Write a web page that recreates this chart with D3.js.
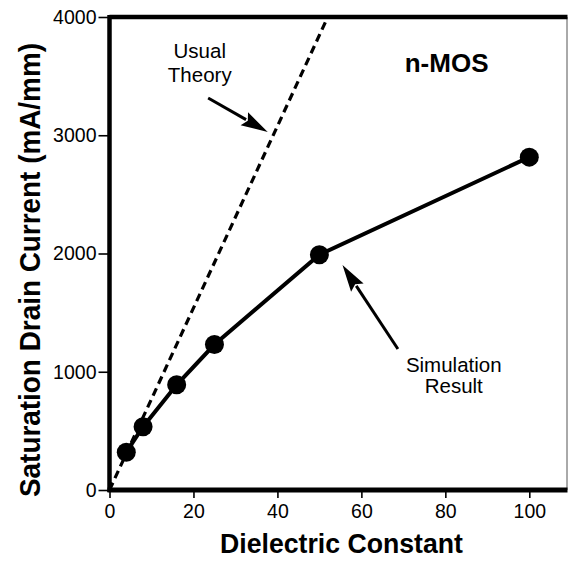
<!DOCTYPE html>
<html>
<head>
<meta charset="utf-8">
<script src="https://d3js.org/d3.v7.min.js"></script>
<style>
  body { margin: 0; background: #fff; }
  text { font-family: "Liberation Sans", Arial, Helvetica, sans-serif; fill: #000; }
</style>
</head>
<body>
<div id="chart"></div>
<script>
// simulation result (n-MOS)
var dielectric = [4, 8, 16, 25, 50, 100];
var drainCurrent = [320, 535, 890, 1230, 1990, 2815];

// usual theory (dashed), end points
var theoryX = [0, 52];
var theoryY = [0, 4000];

var xTicks = [0, 20, 40, 60, 80, 100];
var yTicks = [0, 1000, 2000, 3000, 4000];

var width = 569, height = 564;
var margin = {top: 17, right: 1.5, bottom: 74, left: 109.5};

var svg = d3.select("#chart").append("svg")
  .attr("width", width)
  .attr("height", height);

var x = d3.scaleLinear()
  .domain([0, 109.1])
  .range([margin.left, width - margin.right]);

var y = d3.scaleLinear()
  .domain([0, 4000])
  .range([height - margin.bottom, margin.top]);

// axes
var xAxis = svg.append("g")
  .attr("transform", "translate(0," + y(0) + ")")
  .call(d3.axisBottom(x).tickValues(xTicks).tickFormat(d3.format("d")).tickSize(8).tickPadding(6));
xAxis.select(".domain").remove();
xAxis.selectAll("line").attr("stroke-width", 1.6);
xAxis.selectAll("text").attr("font-size", 19.5).attr("fill", "#000")
  .style("font-family", "'Liberation Sans', Arial, sans-serif");

var yAxis = svg.append("g")
  .attr("transform", "translate(" + x(0) + ",0)")
  .call(d3.axisLeft(y).tickValues(yTicks).tickFormat(d3.format("d")).tickSize(11).tickPadding(2));
yAxis.select(".domain").remove();
yAxis.selectAll("line").attr("stroke-width", 1.6);
yAxis.selectAll("text").attr("font-size", 19.5).attr("fill", "#000")
  .style("font-family", "'Liberation Sans', Arial, sans-serif");

// frame
var x0 = x(0), x1 = x(109.1), y0 = y(0), y1 = y(4000);
svg.append("line").attr("x1", x1 - 0.5).attr("x2", x1 - 0.5).attr("y1", y1).attr("y2", y0)
  .attr("stroke", "#555").attr("stroke-width", 1);
svg.append("line").attr("x1", x0).attr("x2", x1).attr("y1", y1).attr("y2", y1)
  .attr("stroke", "#000").attr("stroke-width", 4.5);
svg.append("line").attr("x1", x0).attr("x2", x0).attr("y1", y1 - 2).attr("y2", y0 + 2)
  .attr("stroke", "#000").attr("stroke-width", 4.5);
svg.append("line").attr("x1", x0 - 2).attr("x2", x1).attr("y1", y0).attr("y2", y0)
  .attr("stroke", "#000").attr("stroke-width", 5);

// usual theory dashed line
svg.append("path")
  .datum(d3.zip(theoryX, theoryY))
  .attr("d", d3.line().x(d => x(d[0])).y(d => y(d[1])))
  .attr("fill", "none")
  .attr("stroke", "#000")
  .attr("stroke-width", 3.2)
  .attr("stroke-dasharray", "8,5");

// simulation line + markers
var sim = d3.zip(dielectric, drainCurrent);
svg.append("path")
  .datum(sim)
  .attr("d", d3.line().x(d => x(d[0])).y(d => y(d[1])))
  .attr("fill", "none")
  .attr("stroke", "#000")
  .attr("stroke-width", 4);

svg.append("g").selectAll("circle")
  .data(sim)
  .enter().append("circle")
  .attr("cx", d => x(d[0]))
  .attr("cy", d => y(d[1]))
  .attr("r", 9.5)
  .attr("fill", "#000");

// arrows
function arrow(from, to) {
  var x1 = x(from[0]), y1 = y(from[1]), x2 = x(to[0]), y2 = y(to[1]);
  var dx = x2 - x1, dy = y2 - y1, len = Math.sqrt(dx * dx + dy * dy);
  var ux = dx / len, uy = dy / len;
  var hl = 27, hw = 7.5;
  var bx = x2 - ux * hl, by = y2 - uy * hl;
  svg.append("line")
    .attr("x1", x1).attr("y1", y1).attr("x2", bx + ux * 2).attr("y2", by + uy * 2)
    .attr("stroke", "#000").attr("stroke-width", 3);
  svg.append("path")
    .attr("d", "M" + x2 + "," + y2 +
      "L" + (bx - uy * hw) + "," + (by + ux * hw) +
      "L" + (bx + ux * 4) + "," + (by + uy * 4) +
      "L" + (bx + uy * hw) + "," + (by - ux * hw) + "Z")
    .attr("fill", "#000");
}
arrow([23.5, 3315], [37.7, 3027]);
arrow([68.7, 1192], [55.5, 1903]);

// annotations
svg.append("text").attr("x", x(21.5)).attr("y", y(3650))
  .attr("text-anchor", "middle").attr("font-size", 20.5).text("Usual");
svg.append("text").attr("x", x(21.5)).attr("y", y(3450))
  .attr("text-anchor", "middle").attr("font-size", 20.5).text("Theory");
svg.append("text").attr("x", x(80.3)).attr("y", y(3535))
  .attr("text-anchor", "middle").attr("font-size", 26).attr("font-weight", "bold").text("n-MOS");
svg.append("text").attr("x", x(82)).attr("y", y(1000))
  .attr("text-anchor", "middle").attr("font-size", 20.5).text("Simulation");
svg.append("text").attr("x", x(82)).attr("y", y(820))
  .attr("text-anchor", "middle").attr("font-size", 20.5).text("Result");

// axis titles
svg.append("text")
  .attr("x", 341.5).attr("y", 553)
  .attr("text-anchor", "middle")
  .attr("font-size", 28).attr("font-weight", "bold")
  .attr("textLength", 243).attr("lengthAdjust", "spacingAndGlyphs")
  .text("Dielectric Constant");

svg.append("text")
  .attr("transform", "translate(40,270) rotate(-90)")
  .attr("text-anchor", "middle")
  .attr("font-size", 29).attr("font-weight", "bold")
  .attr("textLength", 454).attr("lengthAdjust", "spacingAndGlyphs")
  .text("Saturation Drain Current (mA/mm)");
</script>
</body>
</html>
